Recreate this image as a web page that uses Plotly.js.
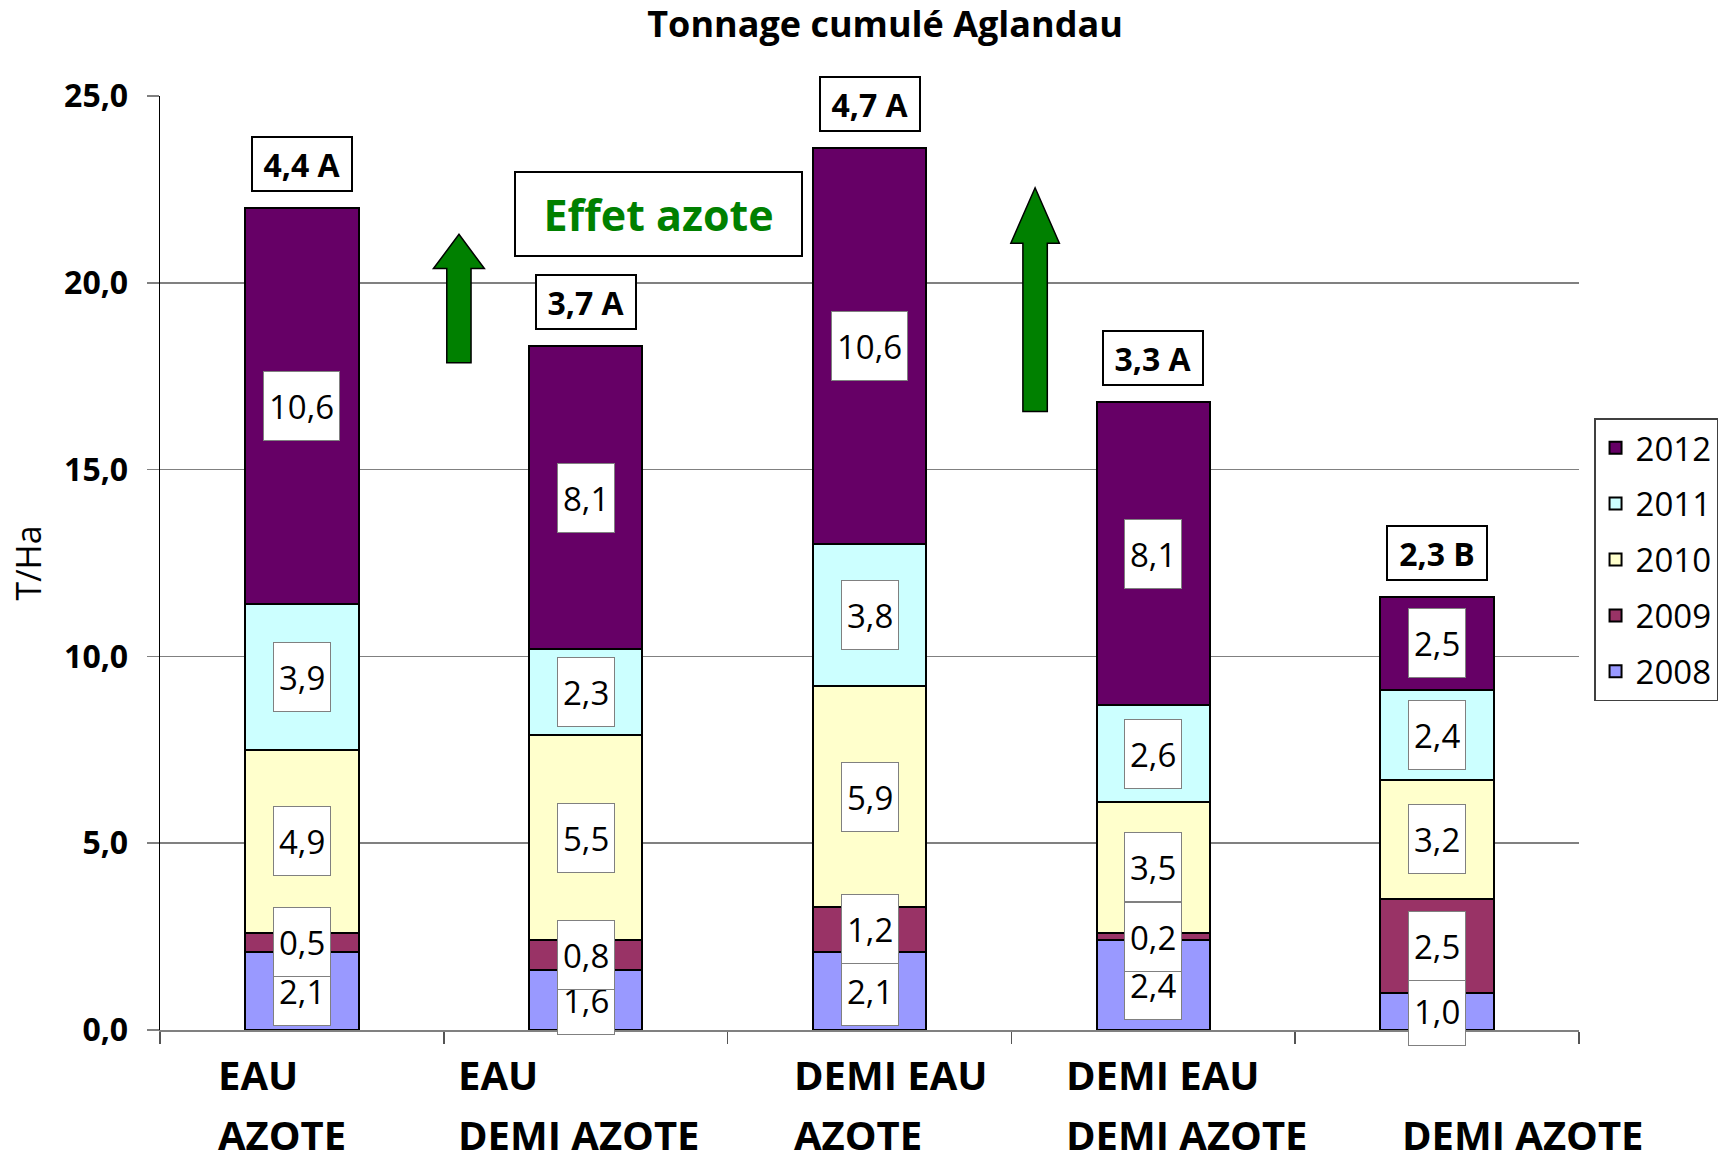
<!DOCTYPE html>
<html>
<head>
<meta charset="utf-8">
<script src="https://cdn.plot.ly/plotly-3.0.1.min.js"></script>
<style>html,body{margin:0;padding:0;background:#fff;}#chart{width:1734px;height:1161px;}</style>
</head>
<body>
<div id="chart"></div>
<script>
const categories = ['EAU AZOTE', 'EAU DEMI AZOTE', 'DEMI EAU AZOTE', 'DEMI EAU DEMI AZOTE', 'DEMI AZOTE'];
const years = ['2008', '2009', '2010', '2011', '2012'];
const v2008 = [2.1, 1.6, 2.1, 2.4, 1.0];
const v2009 = [0.5, 0.8, 1.2, 0.2, 2.5];
const v2010 = [4.9, 5.5, 5.9, 3.5, 3.2];
const v2011 = [3.9, 2.3, 3.8, 2.6, 2.4];
const v2012 = [10.6, 8.1, 10.6, 8.1, 2.5];
const meanLabels = ['4,4 A', '3,7 A', '4,7 A', '3,3 A', '2,3 B'];
const labelLine1 = ['EAU', 'EAU', 'DEMI EAU', 'DEMI EAU', ''];
const labelLine2 = ['AZOTE', 'DEMI AZOTE', 'AZOTE', 'DEMI AZOTE', 'DEMI AZOTE'];
const effetText = 'Effet azote';

const series = [v2008, v2009, v2010, v2011, v2012];
const colors = ['#9999FF', '#993366', '#FFFFCC', '#CCFFFF', '#660066'];
const FONT = 'Open Sans, Lato, Noto Sans, sans-serif';
const fmt = v => v.toFixed(1).replace('.', ',');

const traces = series.map((vals, s) => ({
  type: 'bar',
  name: years[s],
  x: categories,
  y: vals,
  width: 0.4,
  legendgroup: 'g' + s,
  legendrank: 10 - s,
  marker: {color: colors[s], line: {color: '#000000', width: 2}},
  hoverinfo: 'x+y+name'
}));

const annotations = [];
// value labels, series by series so later years sit on top
series.forEach((vals, s) => {
  vals.forEach((v, i) => {
    let base = 0;
    for (let k = 0; k < s; k++) base += series[k][i];
    annotations.push({
      x: i, y: base + v / 2, xref: 'x', yref: 'y',
      text: fmt(v), showarrow: false,
      font: {family: FONT, size: 33, color: '#000'},
      bgcolor: '#ffffff', bordercolor: '#808080', borderwidth: 1,
      borderpad: 5, height: 58,
      xanchor: 'center', yanchor: 'middle'
    });
  });
});
// mean labels above bars
categories.forEach((c, i) => {
  const total = series.reduce((a, arr) => a + arr[i], 0);
  annotations.push({
    x: i, y: total, xref: 'x', yref: 'y',
    text: meanLabels[i], showarrow: false,
    font: {family: FONT, size: 32, color: '#000', weight: 'bold'},
    bgcolor: '#ffffff', bordercolor: '#000000', borderwidth: 2,
    borderpad: 5, width: 88, height: 42,
    xanchor: 'center', yanchor: 'bottom', yshift: 16
  });
});
// category labels (two lines, left aligned)
const labelShift = [-86, -130, -78, -89, -37];
const lineY = [-0.048, -0.1115];
categories.forEach((c, i) => {
  [labelLine1[i], labelLine2[i]].forEach((t, line) => {
    if (!t) return;
    annotations.push({
      x: i, xref: 'x', y: lineY[line], yref: 'paper',
      text: t, showarrow: false,
      font: {family: FONT, size: 40, color: '#000', weight: 'bold'},
      xanchor: 'left', yanchor: 'middle', xshift: labelShift[i]
    });
  });
});
// "Effet azote" box
annotations.push({
  x: 0.3513, y: 0.8738, xref: 'paper', yref: 'paper',
  text: effetText, showarrow: false,
  font: {family: FONT, size: 43, color: '#008000', weight: 'bold'},
  bgcolor: '#ffffff', bordercolor: '#000000', borderwidth: 2,
  borderpad: 5, width: 275, height: 72,
  xanchor: 'center', yanchor: 'middle'
});

const arrowPath = (xl, xs1, xc, xs2, xr, yTip, yBase, yBot) =>
  `M ${xs1} ${yBot} L ${xs1} ${yBase} L ${xl} ${yBase} L ${xc} ${yTip} L ${xr} ${yBase} L ${xs2} ${yBase} L ${xs2} ${yBot} Z`;

const shapes = [
  {type: 'path', xref: 'paper', yref: 'paper',
   path: arrowPath(0.1927, 0.2021, 0.2107, 0.2192, 0.2286, 0.8519, 0.8152, 0.7145),
   fillcolor: '#008000', line: {color: '#000000', width: 1.5}},
  {type: 'path', xref: 'paper', yref: 'paper',
   path: arrowPath(0.5996, 0.6081, 0.6167, 0.6253, 0.6338, 0.9017, 0.8424, 0.6623),
   fillcolor: '#008000', line: {color: '#000000', width: 1.5}}
];

const layout = {
  width: 1734, height: 1161,
  paper_bgcolor: '#ffffff', plot_bgcolor: '#ffffff',
  separators: ',.',
  barmode: 'stack',
  margin: {l: 160, r: 155, t: 96, b: 131, pad: 0},
  title: {
    text: 'Tonnage cumulé Aglandau',
    font: {family: FONT, size: 36, color: '#000', weight: 'bold'},
    x: 0.511, xref: 'paper', xanchor: 'center',
    y: 0.979, yref: 'container', yanchor: 'middle'
  },
  xaxis: {
    type: 'category',
    range: [-0.5, 4.5],
    showticklabels: false,
    ticks: 'outside', tickson: 'boundaries', ticklen: 12, tickcolor: '#555', tickwidth: 1.5,
    showline: true, linecolor: '#808080', linewidth: 2,
    showgrid: false, zeroline: false, fixedrange: true
  },
  yaxis: {
    range: [0, 25], dtick: 5, tick0: 0, tickformat: '.1f',
    showgrid: true, gridcolor: '#808080', gridwidth: 1.5,
    zeroline: false,
    showline: true, linecolor: '#000000', linewidth: 1.5,
    ticks: 'outside', ticklen: 12, tickcolor: '#808080', tickwidth: 1.5,
    ticklabelstandoff: 12,
    tickfont: {family: FONT, size: 32, color: '#000', weight: 'bold'},
    title: {text: 'T/Ha', font: {family: FONT, size: 34, color: '#000'}, standoff: 12},
    automargin: false, fixedrange: true
  },
  showlegend: true,
  legend: {
    x: 1.0106, xanchor: 'left', y: 0.655, yanchor: 'top',
    traceorder: 'grouped', tracegroupgap: 10,
    font: {family: FONT, size: 33, color: '#000'},
    bgcolor: '#ffffff', bordercolor: '#404040', borderwidth: 1.5,
    itemwidth: 30
  },
  annotations: annotations,
  shapes: shapes
};

Plotly.newPlot('chart', traces, layout, {displayModeBar: false, staticPlot: true});
</script>
</body>
</html>
